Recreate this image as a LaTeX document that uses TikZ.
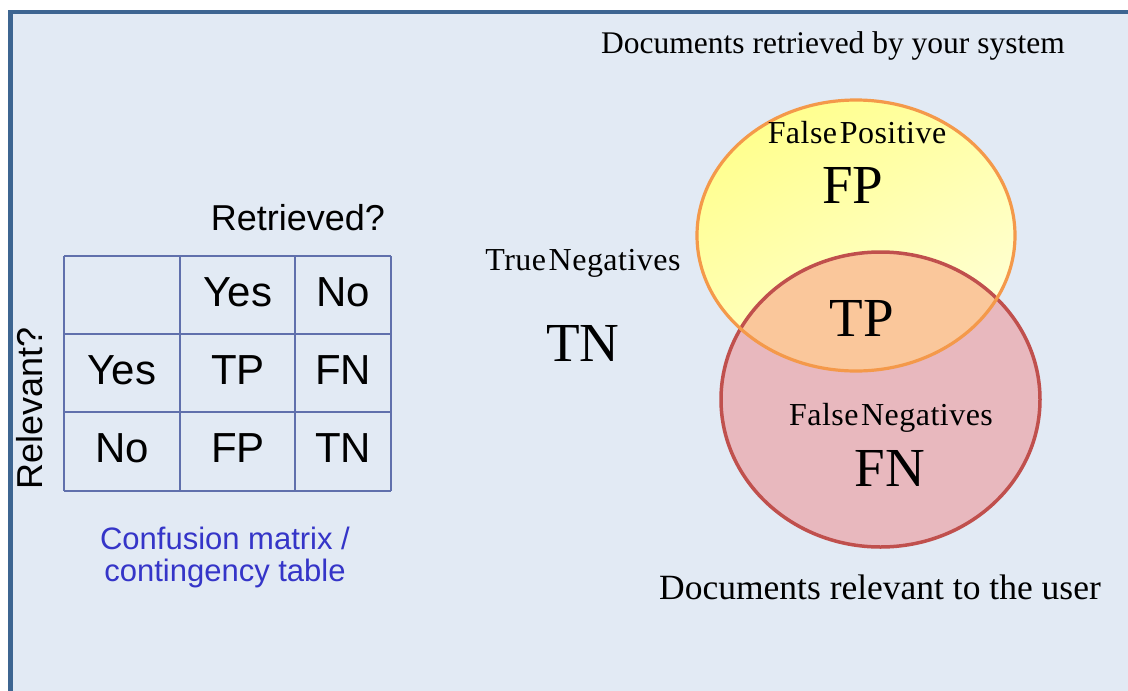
\documentclass[tikz,border=0pt]{standalone}
\usepackage{fontspec}
\setmainfont{Liberation Serif}
\newfontfamily\tabfont{Liberation Sans}
\newfontfamily\tightserif[LetterSpace=1.5, WordSpace=0.3]{Liberation Serif}
\usetikzlibrary{calc}

\definecolor{slidebg}{HTML}{E2EAF4}
\definecolor{framecol}{HTML}{3D6591}
\definecolor{gridcol}{HTML}{6070AC}
\definecolor{capblue}{HTML}{3535C8}
\definecolor{ylwA}{HTML}{FFFF8E}
\definecolor{ylwB}{HTML}{FFFFD6}
\definecolor{ylwline}{HTML}{F4994A}
\definecolor{redfill}{HTML}{E8B8BE}
\definecolor{redline}{HTML}{C0504D}
\definecolor{bothfill}{HTML}{FAC79B}

\tikzset{
  cell/.style={font=\tabfont\fontsize{42}{44}\selectfont, inner sep=0pt, anchor=center},
  tabhead/.style={font=\tabfont\fontsize{36}{38}\selectfont, inner sep=0pt},
  caption/.style={font=\tabfont\fontsize{31}{33}\selectfont, text=capblue, inner sep=0pt},
  setlabel/.style={font=\tightserif\fontsize{32}{34}\selectfont, inner sep=0pt},
  setname/.style={font=\fontsize{35.5}{37}\selectfont, inner sep=0pt},
  topname/.style={font=\fontsize{31.5}{33}\selectfont, inner sep=0pt},
  region/.style={font=\fontsize{55}{57}\selectfont, inner sep=0pt},
  gridline/.style={draw=gridcol, line width=1.8pt},
}

\begin{document}
\begin{tikzpicture}[x=1pt, y=-1pt]
\useasboundingbox (0,0) rectangle (1128,691);
\fill[white] (0,0) rectangle (1128,691);
\fill[slidebg] (10,12) rectangle (1128,691);
\draw[framecol, line width=4.5pt] (10.5,691) -- (10.5,12) -- (1128,12);

% contingency table
\foreach \x in {64,180,295,391} \draw[gridline] (\x,256) -- (\x,491);
\foreach \y in {256,334,412,491} \draw[gridline] (64,\y) -- (391,\y);

\node[tabhead] (retr) at (298,218) {Retrieved?};
\node[tabhead, rotate=90] (relev) at (30,408) {Relevant?};
\node[cell] (hyes) at (238,292) {Yes};
\node[cell] (hno)  at (343,292) {No};
\node[cell] (ryes) at (122,370) {Yes};
\node[cell] (rno)  at (122,448) {No};
\node[cell] (ctp)  at (238,370) {TP};
\node[cell] (cfn)  at (343,370) {FN};
\node[cell] (cfp)  at (238,448) {FP};
\node[cell] (ctn)  at (343,448) {TN};
\node[caption] (cap1) at (225,538) {Confusion matrix /};
\node[caption] (cap2) at (225,573) {contingency table};

% Venn diagram: retrieved (yellow) and relevant (red)
\fill[redfill] (880.5,399.5) ellipse [x radius=159.5, y radius=147.5];
\shade[top color=ylwA, bottom color=ylwB, shading angle=30]
  (856,235.5) ellipse [x radius=159, y radius=135.5];
\begin{scope}
  \clip (856,235.5) ellipse [x radius=159, y radius=135.5];
  \fill[bothfill] (880.5,399.5) ellipse [x radius=159.5, y radius=147.5];
\end{scope}
\draw[redline, line width=3.5pt] (880.5,399.5) ellipse [x radius=159.5, y radius=147.5];
\draw[ylwline, line width=3.2pt] (856,235.5) ellipse [x radius=159, y radius=135.5];

\node[topname] (retrset) at (833,46) {Documents retrieved by your system};
\node[setlabel] (fplab) at (857,133) {False Positive};
\node[region] (fp) at (853,185) {FP};
\node[region] (tp) at (862,318) {TP};
\node[setlabel] (tnlab) at (583,263) {True Negatives};
\node[region] (tn) at (583,343) {TN};
\node[setlabel] (fnlab) at (891,418) {False Negatives};
\node[region] (fn) at (890,468) {FN};
\node[setname] (relset) at (880,587) {Documents relevant to the user};
\end{tikzpicture}
\end{document}
